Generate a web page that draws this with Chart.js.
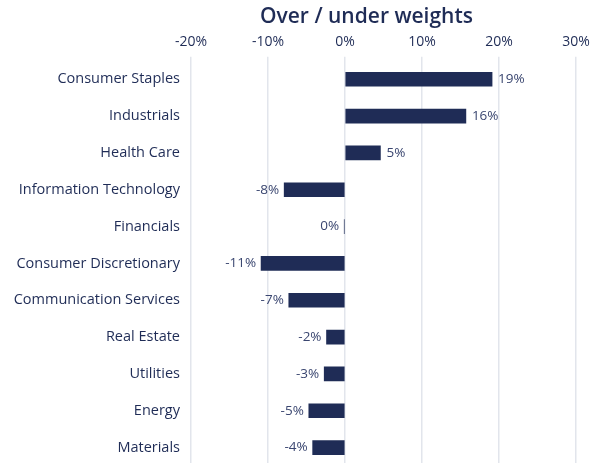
<!DOCTYPE html>
<html>
<head>
<meta charset="utf-8">
<script src="https://cdn.jsdelivr.net/npm/chart.js@4"></script>
<style>
  html, body { margin: 0; padding: 0; background: #fff; overflow: hidden; }
  /* the original plot runs slightly past the bottom edge */
  #wrap { width: 596px; height: 466px; }
</style>
</head>
<body>
<div id="wrap"><canvas id="weights-chart"></canvas></div>
<script>
// sectors, top to bottom
const sectors = [
    "Consumer Staples", "Industrials", "Health Care", "Information Technology",
    "Financials", "Consumer Discretionary", "Communication Services",
    "Real Estate", "Utilities", "Energy", "Materials"
];
// over / under weight in %
const weights = [19.1, 15.7, 4.6, -7.9, -0.1, -10.9, -7.3, -2.4, -2.7, -4.7, -4.2];
const xTicks = [-20, -10, 0, 10, 20, 30];

const navy = "#1f2c56";
const fontFam = "'Open Sans', sans-serif";

// title, centred a bit left of the plot area like the original
const titlePlugin = {
    id: "titulo",
    afterDraw(chart) {
        const ctx = chart.ctx;
        const area = chart.chartArea;
        ctx.save();
        ctx.font = "600 21px " + fontFam;
        ctx.fillStyle = navy;
        ctx.textAlign = "center";
        ctx.textBaseline = "middle";
        ctx.fillText("Over / under weights", (area.left + area.right) / 2 - 17, 17);
        ctx.restore();
    }
};

// value labels at the end of every bar
const valueLabels = {
    id: "valueLabels",
    afterDatasetsDraw(chart) {
        const ctx = chart.ctx;
        const meta = chart.getDatasetMeta(0);
        ctx.save();
        ctx.font = "13.5px " + fontFam;
        ctx.fillStyle = "#3a4670";
        ctx.textBaseline = "middle";
        meta.data.forEach((bar, i) => {
            const v = weights[i];
            const txt = `${Math.round(v)}%`;
            if (v > 0) {
                ctx.textAlign = "left";
                ctx.fillText(txt, bar.x + 6, bar.y);
            } else {
                ctx.textAlign = "right";
                ctx.fillText(txt, bar.x - 5, bar.y);
            }
        });
        ctx.restore();
    }
};

new Chart(document.getElementById("weights-chart"), {
    type: "bar",
    data: {
        labels: sectors,
        datasets: [{
            data: weights,
            backgroundColor: navy,
            borderWidth: 0,
            barThickness: 14
        }]
    },
    options: {
        indexAxis: "y",
        responsive: true,
        maintainAspectRatio: false,
        animation: false,
        layout: { padding: { top: 28, right: 20, left: 8, bottom: 0 } },
        plugins: {
            legend: { display: false },
            tooltip: { enabled: false }
        },
        scales: {
            x: {
                position: "top",
                min: -20,
                max: 30,
                afterBuildTicks(scale) {
                    scale.ticks = xTicks.map(v => ({ value: v }));
                },
                grid: {
                    color: "#e2e5ec",
                    lineWidth: 1.5,
                    drawTicks: true,
                    tickLength: 4
                },
                border: { display: false },
                ticks: {
                    color: navy,
                    font: { family: fontFam, size: 14 },
                    padding: 6,
                    callback: v => v + "%"
                }
            },
            y: {
                afterFit(scale) {
                    scale.width = 183;
                    // category labels sit mid-band, no need for edge room
                    scale.paddingTop = 0;
                    scale.paddingBottom = 0;
                },
                grid: { display: false, drawTicks: false },
                border: { display: false },
                ticks: {
                    color: navy,
                    font: { family: fontFam, size: 14.5 },
                    padding: 11
                }
            }
        }
    },
    plugins: [titlePlugin, valueLabels]
});
</script>
</body>
</html>
